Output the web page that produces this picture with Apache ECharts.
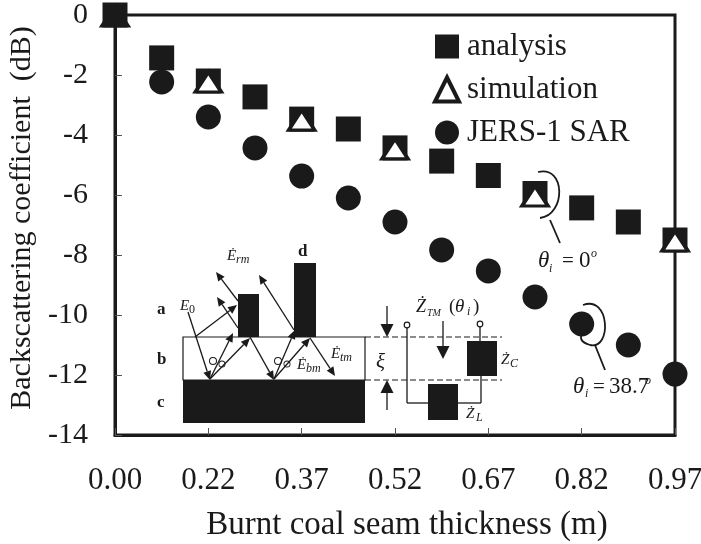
<!DOCTYPE html>
<html><head><meta charset="utf-8">
<style>html,body{margin:0;padding:0;background:#fff}#c{width:701px;height:544px}</style>
<script src="https://cdn.jsdelivr.net/npm/echarts@6/dist/echarts.min.js"></script></head>
<body><div id="c"></div>
<script>
const categories=['0.00','0.11','0.22','0.30','0.37','0.45','0.52','0.60','0.67','0.75','0.82','0.90','0.97'];
const analysis=[0,-1.43,-2.2,-2.73,-3.47,-3.8,-4.43,-4.87,-5.35,-5.95,-6.43,-6.9,-7.5];
const simulation=[0,null,-2.2,null,-3.47,null,-4.43,null,null,-6.0,null,null,-7.5];
const jers=[null,-2.23,-3.4,-4.43,-5.37,-6.1,-6.9,-7.83,-8.53,-9.4,-10.3,-11,-11.97];
const INK='#1a1a1a', F='"Liberation Serif","Times New Roman",serif';

function line(x1,y1,x2,y2,w,dash){return {type:'line',silent:true,shape:{x1,y1,x2,y2},style:{stroke:INK,lineWidth:w||1.3,lineDash:dash||null}};}
function rect(x,y,w,h){return {type:'rect',silent:true,shape:{x,y,width:w,height:h},style:{fill:INK}};}
function arrow(x1,y1,x2,y2,h,wd){
  h=h||9;wd=wd||4;const a=Math.atan2(y2-y1,x2-x1),c=Math.cos(a),s=Math.sin(a);
  const bx=x2-h*c,by=y2-h*s;
  return [line(x1,y1,bx,by,1.3),{type:'polygon',silent:true,shape:{points:[[x2,y2],[bx-wd*s,by+wd*c],[bx+wd*s,by-wd*c]]},style:{fill:INK}}];
}
function txt(x,y,t,size,style,weight){return {type:'text',silent:true,x,y,style:{text:t,fill:INK,font:(style||'normal')+' '+(weight||'normal')+' '+size+'px '+F,align:'left',verticalAlign:'middle'}};}
function curve(p){return {type:'bezierCurve',silent:true,shape:{x1:p[0],y1:p[1],cpx1:p[2],cpy1:p[3],cpx2:p[4],cpy2:p[5],x2:p[6],y2:p[7]},style:{stroke:INK,fill:'none',lineWidth:1.8}};}
function ring(x,y,r){return {type:'circle',silent:true,shape:{cx:x,cy:y,r},style:{fill:'#fff',stroke:INK,lineWidth:1.2}};}

const inset=[
  {type:'rect',silent:true,shape:{x:183,y:337,width:182,height:43},style:{fill:'#fff',stroke:INK,lineWidth:1.2}},
  rect(183,380,182,43),rect(238,294,21,43),rect(294,263,22,74),
  line(365,337,502,337,1.2,[6,3]),line(365,380,502,380,1.2,[6,3]),
  ...arrow(188,312,210,380),...arrow(210,379,233,333),...arrow(210,379,250,338),
  ...arrow(195,337,237,305),...arrow(238,328,217,297),...arrow(238,301,216,272),
  ...arrow(250,337,274,380),
  ...arrow(274,379,295,330),...arrow(274,379,310,338),...arrow(294,330,259,275),...arrow(310,338,335,376),
  ...arrow(387,306,387,337,13,6.5),...arrow(387,410,387,380,13,6.5),...arrow(443,321,443,359,13,6.5),
  line(407,327,407,403),line(407,403,428,403),rect(428,384,30,36),
  line(458,403,481,403),line(481,403,481,376),rect(467,341,30,35),line(480,341,480,327),
  ring(407,325,2.8),ring(480,324,2.8),
  {type:'ring',silent:true,shape:{cx:213,cy:361,r:4,r0:3},style:{fill:INK}},
  {type:'ring',silent:true,shape:{cx:222,cy:364,r:3.5,r0:2.6},style:{fill:INK}},
  {type:'ring',silent:true,shape:{cx:278,cy:361,r:4,r0:3},style:{fill:INK}},
  {type:'ring',silent:true,shape:{cx:287,cy:364,r:3.5,r0:2.6},style:{fill:INK}},
  txt(157,310,'a',17,'normal','bold'),txt(157,360,'b',17,'normal','bold'),txt(157,403,'c',17,'normal','bold'),txt(298,252,'d',17,'normal','bold'),
  txt(180,306,'E',15,'italic'),txt(189,310,'0',12),
  txt(227,256,'Ė',15,'italic'),txt(236,260,'rm',12,'italic'),
  txt(297,365,'Ė',15,'italic'),txt(306,369,'bm',12,'italic'),
  txt(331,354,'Ė',15,'italic'),txt(340,358,'tm',12,'italic'),
  txt(376,362,'ξ',21,'italic'),
  txt(416,307,'Ż',18,'italic'),txt(427,313,'TM',10,'italic'),txt(449,307,'(',19),txt(455,307,'θ',19,'italic'),txt(467,312,'i',12,'italic'),txt(473,307,')',19),
  txt(501,360,'Ż',15,'italic'),txt(510,364,'C',12,'italic'),
  txt(466,414,'Ż',15,'italic'),txt(476,418,'L',12,'italic'),
  curve([538,172,566,165,566,215,540,218]),line(550,220,560,243,1.8),
  txt(538,261,'θ',23,'italic'),txt(549,269,'i',12,'italic'),txt(562,261,'=',21),txt(579,261,'0',23),txt(591,254,'o',12,'italic'),
  curve([583,305,610,295,612,350,590,345]),curve([590,345,580,342,580,338,582,333]),line(595,345,605,370,1.8),
  txt(573,387,'θ',23,'italic'),txt(585,394,'i',12,'italic'),txt(593,387,'=',21),txt(609,387,'38.7',23),txt(645,381,'o',12,'italic')
];

const chart=echarts.init(document.getElementById('c'),null,{renderer:'canvas'});
chart.setOption({
  animation:false,backgroundColor:'#fff',
  textStyle:{fontFamily:F,color:INK},
  grid:{left:115,right:26,top:15,bottom:109,outerBoundsMode:'none',show:true,borderColor:INK,borderWidth:3,backgroundColor:'transparent'},
  xAxis:{type:'category',data:categories,boundaryGap:false,name:'Burnt coal seam thickness (m)',nameLocation:'middle',nameGap:74,
    nameTextStyle:{fontSize:33,color:INK,fontFamily:F,padding:[0,0,0,24]},
    axisLine:{show:true,onZero:false,lineStyle:{color:INK,width:3}},
    axisTick:{show:true,inside:true,length:7,interval:1,lineStyle:{color:'#555',width:1}},
    axisLabel:{interval:1,fontSize:31,color:INK,fontFamily:F,margin:30,showMinLabel:true,showMaxLabel:true,hideOverlap:false},
    splitLine:{show:false}},
  yAxis:{type:'value',min:-14,max:0,interval:2,name:'Backscattering coefficient  (dB)',nameLocation:'middle',nameGap:68,nameRotate:90,
    nameTextStyle:{fontSize:30,color:INK,fontFamily:F,padding:[0,0,0,14]},
    axisLine:{show:true,onZero:false,lineStyle:{color:INK,width:3}},
    axisTick:{show:true,inside:true,length:7,lineStyle:{color:'#555',width:1}},
    axisLabel:{fontSize:30,color:INK,fontFamily:F,margin:27},
    splitLine:{show:false}},
  legend:{left:427,top:26,orient:'vertical',itemWidth:30,itemHeight:30,itemGap:12,
    selectedMode:false,
    textStyle:{fontSize:31,fontFamily:F,color:INK,padding:[0,0,0,0]},
    data:['analysis',{name:'simulation',itemStyle:{borderWidth:4}},'JERS-1 SAR']},
  graphic:{elements:inset},
  series:[
    {name:'analysis',type:'line',data:analysis,symbol:'rect',symbolSize:25,showSymbol:true,showAllSymbol:true,connectNulls:false,clip:false,z:3,
      lineStyle:{width:0,opacity:0},itemStyle:{color:INK}},
    {name:'JERS-1 SAR',type:'line',data:jers,symbol:'circle',symbolSize:25,showAllSymbol:true,clip:false,z:3,
      lineStyle:{width:0,opacity:0},itemStyle:{color:INK}},
    {name:'simulation',type:'line',data:simulation.map((v,i)=>i===0?{value:v,itemStyle:{color:INK}}:v),symbol:'triangle',symbolSize:[26,20],symbolOffset:[0,1],showAllSymbol:true,clip:false,z:4,
      lineStyle:{width:0,opacity:0},itemStyle:{color:'#fff',borderColor:INK,borderWidth:3.5}}
  ]
});
</script></body></html>
